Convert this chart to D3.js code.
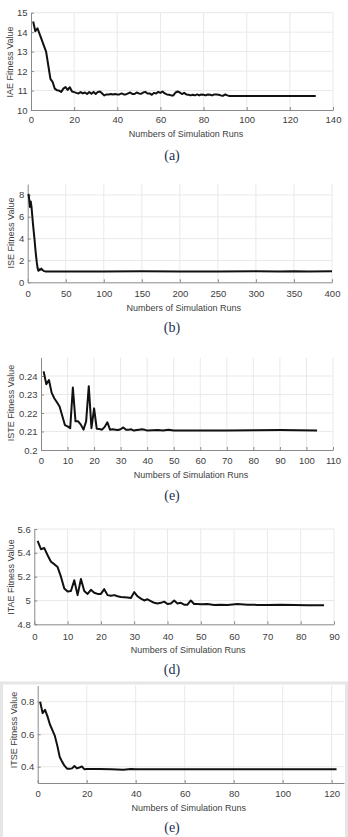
<!DOCTYPE html>
<html>
<head>
<meta charset="utf-8">
<script src="https://cdn.jsdelivr.net/npm/d3@7"></script>
<style>
  body { margin: 0; background: #fff; }
  svg { display: block; }
  .tick text { font-family: "Liberation Sans", Arial, sans-serif; font-size: 9.5px; fill: #404040; }
  .axis path, .axis line { stroke: #8a8a8a; }
  .grid line { stroke: #e9e9e9; stroke-width: 1; }
  .lbl { font-family: "Liberation Sans", Arial, sans-serif; font-size: 9px; fill: #404040; }
  .cap { font-family: "Liberation Serif", "DejaVu Serif", serif; font-size: 14px; fill: #1a3050; }
</style>
</head>
<body>
<script>
// values, [run, fitness]
const iaeData = [
  [1,14.55],[2,14.05],[3,14.2],[4,13.9],[5,13.6],[6,13.3],[7,13.0],[8,12.3],[9,11.6],[10,11.45],
  [11,11.1],[12,11.02],[13,11.0],[14,10.93],[15,11.1],[16,11.18],[17,11.03],[18,11.17],[19,10.95],[20,10.92],
  [21,10.88],[22,10.85],[23,10.92],[24,10.85],[25,10.9],[26,10.82],[27,10.92],[28,10.83],[29,10.93],[30,10.82],
  [31,10.93],[32,10.95],[33,10.85],[34,10.75],[35,10.8],[36,10.8],[37,10.82],[38,10.8],[39,10.82],[40,10.8],
  [41,10.8],[42,10.85],[43,10.8],[44,10.8],[45,10.85],[46,10.9],[47,10.82],[48,10.82],[49,10.9],[50,10.85],
  [51,10.83],[52,10.9],[53,10.93],[54,10.85],[55,10.85],[56,10.78],[57,10.88],[58,10.85],[59,10.93],[60,10.88],
  [61,10.95],[62,10.85],[63,10.8],[64,10.78],[65,10.75],[66,10.75],[67,10.9],[68,10.95],[69,10.9],[70,10.82],
  [71,10.88],[72,10.8],[73,10.78],[74,10.75],[75,10.78],[76,10.75],[77,10.8],[78,10.75],[79,10.8],[80,10.78],
  [81,10.75],[82,10.8],[83,10.78],[84,10.75],[85,10.8],[86,10.8],[87,10.78],[88,10.75],[89,10.73],[90,10.8],
  [91,10.75],[92,10.72],[100,10.72],[110,10.72],[120,10.72],[132,10.72]
];
const iseData = [
  [1,8.1],[2,7.6],[3,6.9],[4,7.4],[5,6.9],[6,6.1],[7,5.3],[8,4.6],[9,3.9],[10,3.1],
  [11,2.4],[12,1.8],[13,1.3],[14,1.05],[15,1.1],[16,1.2],[17,1.15],[18,1.25],[19,1.15],[20,1.1],
  [21,1.05],[23,1.0],[30,1.0],[50,0.99],[100,1.0],[150,1.01],[200,1.0],[250,1.0],[300,1.01],
  [330,1.0],[350,1.02],[370,1.0],[400,1.02]
];
const isteData = [
  [1,0.2425],[2,0.2355],[3,0.2378],[4,0.231],[5,0.228],[6,0.2258],[7,0.2235],[8,0.2185],[9,0.2135],[10,0.2128],
  [11,0.2118],[12,0.2338],[13,0.2155],[14,0.2155],[15,0.2137],[16,0.211],[17,0.2155],[18,0.2345],[19,0.2118],[20,0.2225],
  [21,0.2115],[22,0.2113],[23,0.211],[24,0.2125],[25,0.215],[26,0.211],[27,0.2112],[28,0.211],[29,0.2108],[30,0.2112],
  [31,0.2122],[32,0.211],[33,0.211],[34,0.2112],[35,0.2105],[36,0.2108],[37,0.211],[38,0.2112],[39,0.211],[40,0.2105],
  [42,0.2107],[44,0.2108],[46,0.2105],[48,0.211],[50,0.2105],[60,0.2105],[70,0.2106],[80,0.2107],[90,0.2108],[104,0.2105]
];
const itaeData = [
  [1,5.50],[2,5.43],[3,5.44],[4,5.38],[5,5.325],[6,5.305],[7,5.28],[8,5.20],[9,5.10],[10,5.075],
  [11,5.08],[12,5.17],[13,5.045],[14,5.18],[15,5.08],[16,5.055],[17,5.09],[18,5.065],[19,5.055],[20,5.055],
  [21,5.095],[22,5.045],[23,5.04],[24,5.045],[25,5.035],[26,5.03],[27,5.028],[28,5.025],[29,5.02],[30,5.07],
  [31,5.035],[32,5.015],[33,5.0],[34,5.01],[35,4.995],[36,4.98],[37,4.975],[38,4.98],[39,4.99],[40,4.97],
  [41,4.975],[42,5.0],[43,4.975],[44,4.98],[45,4.965],[46,4.965],[47,5.0],[48,4.97],[49,4.97],[50,4.968],
  [52,4.97],[54,4.962],[56,4.965],[58,4.963],[61,4.97],[64,4.965],[67,4.963],[70,4.962],[74,4.965],[78,4.962],
  [82,4.96],[87,4.96]
];
const itseData = [
  [1,0.80],[2,0.73],[3,0.75],[4,0.71],[5,0.66],[6,0.625],[7,0.59],[8,0.53],[9,0.46],[10,0.43],
  [11,0.405],[12,0.388],[13,0.387],[14,0.39],[15,0.405],[16,0.39],[17,0.395],[18,0.402],[19,0.385],[20,0.386],
  [25,0.386],[30,0.385],[35,0.382],[38,0.386],[40,0.384],[50,0.384],[122,0.384]
];

const iaeTicksX = [0,20,40,60,80,100,120,140], iaeTicksY = [10,11,12,13,14,15];
const iseTicksX = [0,50,100,150,200,250,300,350,400], iseTicksY = [0,2,4,6,8];
const isteTicksX = [0,10,20,30,40,50,60,70,80,90,100,110], isteTicksY = [0.2,0.21,0.22,0.23,0.24];
const itaeTicksX = [0,10,20,30,40,50,60,70,80,90], itaeTicksY = [4.8,5,5.2,5.4,5.6];
const itseTicksX = [0,20,40,60,80,100,120], itseTicksY = [0.4,0.6,0.8];

const yLabels = ["IAE Fitness Value","ISE Fitness Value","ISTE Fitness Value","ITAE Fitness Value","ITSE Fitness Value"];
const xLabel = "Numbers of Simulation Runs";
const captions = ["(a)","(b)","(e)","(d)","(e)"];

const width = 348, height = 837;
const svg = d3.select("body").append("svg").attr("width", width).attr("height", height);

// frame round the last panel
svg.append("rect").attr("x", 1.5).attr("y", 683).attr("width", 345).attr("height", 160)
  .attr("fill", "none").attr("stroke", "#e6e6e6").attr("stroke-width", 3);

const panels = [
  { data: iaeData, xd: [0,140], yd: [10,15], xt: iaeTicksX, yt: iaeTicksY, l: 31, r: 333, b: 110, t: 12.7,
    xtb: 123, xlb: 137, capb: 160, ylx: 12.5, lyc: 62 },
  { data: iseData, xd: [0,400], yd: [0,9], xt: iseTicksX, yt: iseTicksY, l: 27.7, r: 332, b: 282.3, t: 184,
    xtb: 297, xlb: 310.5, capb: 332, ylx: 14, lyc: 233 },
  { data: isteData, xd: [0,110], yd: [0.2,0.25], xt: isteTicksX, yt: isteTicksY, l: 41, r: 333, b: 450, t: 357.5,
    xtb: 464, xlb: 477.5, capb: 500, ylx: 14, lyc: 403 },
  { data: itaeData, xd: [0,90], yd: [4.8,5.6], xt: itaeTicksX, yt: itaeTicksY, l: 34.3, r: 334, b: 624.3, t: 529,
    xtb: 640.5, xlb: 652.5, capb: 674, ylx: 13.5, lyc: 577 },
  { data: itseData, xd: [0,125], yd: [0.3,0.9], xt: itseTicksX, yt: itseTicksY, l: 37.7, r: 343.9, b: 783, t: 685.5,
    xtb: 797, xlb: 810.5, capb: 832, ylx: 16.5, lyc: 730 }
];

const fmt = d => String(+d.toFixed(4));

panels.forEach(function(p, i) {
  const x = d3.scaleLinear().domain(p.xd).range([p.l, p.r]);
  const y = d3.scaleLinear().domain(p.yd).range([p.b, p.t]);
  const g = svg.append("g");

  const grid = g.append("g").attr("class", "grid");
  grid.selectAll(".gx").data(p.xt.filter(d => d > p.xd[0])).enter().append("line")
    .attr("x1", d => x(d)).attr("x2", d => x(d)).attr("y1", p.t).attr("y2", p.b);
  grid.selectAll(".gy").data(p.yt.filter(d => d > p.yd[0])).enter().append("line")
    .attr("x1", p.l).attr("x2", p.r).attr("y1", d => y(d)).attr("y2", d => y(d));

  const ax = g.append("g").attr("class", "axis").attr("transform", "translate(0," + p.b + ")")
    .call(d3.axisBottom(x).tickValues(p.xt).tickSizeInner(-3).tickSizeOuter(0).tickFormat(fmt));
  ax.selectAll("text").attr("dy", null).attr("y", p.xtb - p.b);
  const ay = g.append("g").attr("class", "axis").attr("transform", "translate(" + p.l + ",0)")
    .call(d3.axisLeft(y).tickValues(p.yt).tickSizeInner(-3).tickSizeOuter(0).tickPadding(3.5).tickFormat(fmt));
  g.selectAll(".domain").attr("stroke", "#8a8a8a");

  const line = d3.line().x(d => x(d[0])).y(d => y(d[1]));
  g.append("path").datum(p.data).attr("d", line)
    .attr("fill", "none").attr("stroke", "#111").attr("stroke-width", 2).attr("stroke-linejoin", "round");

  g.append("text").attr("class", "lbl").attr("x", (p.l + x(p.xt[p.xt.length - 1])) / 2 + 4).attr("y", p.xlb)
    .attr("text-anchor", "middle").text(xLabel);
  g.append("text").attr("class", "lbl").attr("transform", "translate(" + p.ylx + "," + p.lyc + ") rotate(-90)")
    .attr("text-anchor", "middle").text(yLabels[i]);
  g.append("text").attr("class", "cap").attr("x", 172).attr("y", p.capb)
    .attr("text-anchor", "middle").text(captions[i]);
});
</script>
</body>
</html>
